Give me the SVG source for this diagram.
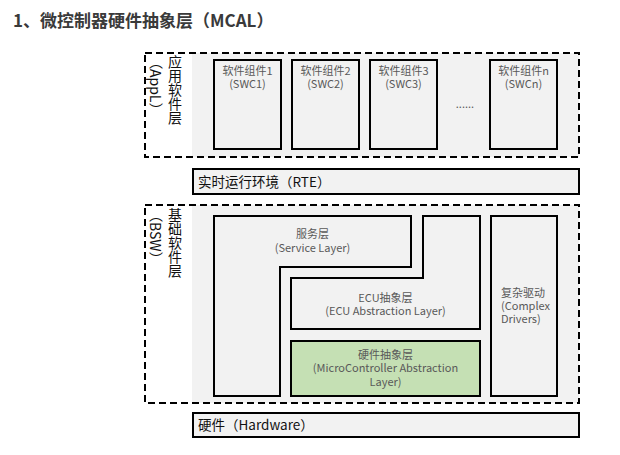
<svg xmlns="http://www.w3.org/2000/svg" width="620" height="455" viewBox="0 0 620 455">
<style>
text{font-family:"Noto Sans CJK SC","Noto Sans",sans-serif}
.title{font-size:17px;font-weight:bold;fill:#3a3a3a}
.bg{fill:#f2f2f2;stroke:none}
.dash{fill:none;stroke:#000;stroke-width:2;stroke-dasharray:7,4}
.box{fill:#f2f2f2;stroke:#000;stroke-width:2}
.green{fill:#c5e0b4;stroke:#000;stroke-width:2}
.sm{font-size:11px;fill:#595959;text-anchor:middle}
.smL{font-size:11px;fill:#595959}
.bar{font-size:13.5px;fill:#111}
.vt{font-size:14px;fill:#111;writing-mode:vertical-rl}
</style>
<rect width="620" height="455" fill="#fff"/>
<text class="title" x="13" y="27">1、微控制器硬件抽象层（MCAL）</text>

<g id="appl">
<rect class="bg" x="192" y="53" width="387" height="104"/>
<rect class="dash" x="145" y="53" width="434" height="104"/>
<text class="vt" x="175" y="55">应用软件层</text>
<text class="vt" x="156" y="55">（AppL）</text>
</g>
<g id="swc1">
<rect class="box" x="214" y="60" width="67" height="89"/>
<text class="sm" x="247.5" y="75">软件组件1</text>
<text class="sm" x="247.5" y="88">(SWC1)</text>
</g>
<g id="swc2">
<rect class="box" x="292" y="60" width="67" height="89"/>
<text class="sm" x="325.5" y="75">软件组件2</text>
<text class="sm" x="325.5" y="88">(SWC2)</text>
</g>
<g id="swc3">
<rect class="box" x="370" y="60" width="67" height="89"/>
<text class="sm" x="403.5" y="75">软件组件3</text>
<text class="sm" x="403.5" y="88">(SWC3)</text>
</g>
<g id="dots">
<text class="sm" x="465" y="108">......</text>
</g>
<g id="swcn">
<rect class="box" x="490" y="60" width="67" height="89"/>
<text class="sm" x="523.5" y="75">软件组件n</text>
<text class="sm" x="523.5" y="88">(SWCn)</text>
</g>

<g id="rte">
<rect class="box" x="193" y="169" width="386" height="25"/>
<text class="bar" x="198" y="186.5">实时运行环境（RTE）</text>
</g>

<g id="bsw">
<rect class="bg" x="192" y="205" width="387" height="198"/>
<rect class="dash" x="145" y="205" width="434" height="198"/>
<text class="vt" x="175" y="208">基础软件层</text>
<text class="vt" x="156" y="208">（BSW）</text>
</g>
<g id="service">
<path class="box" d="M214,216 H411 V267 H280 V396 H214 Z"/>
<text class="sm" x="312.5" y="238">服务层</text>
<text class="sm" x="312.5" y="252">(Service Layer)</text>
</g>
<g id="ecu">
<path class="box" d="M291,278 H423 V216 H480 V329 H291 Z"/>
<text class="sm" x="385.5" y="302">ECU抽象层</text>
<text class="sm" x="385.5" y="315">(ECU Abstraction Layer)</text>
</g>
<g id="complex">
<rect class="box" x="491" y="216" width="66" height="180"/>
<text class="smL" x="501" y="297">复杂驱动</text>
<text class="smL" x="501" y="310">(Complex</text>
<text class="smL" x="501" y="323">Drivers)</text>
</g>
<g id="mcal">
<rect class="green" x="291" y="341" width="189" height="55"/>
<text class="sm" x="385.5" y="359">硬件抽象层</text>
<text class="sm" x="385.5" y="372">(MicroController Abstraction</text>
<text class="sm" x="385.5" y="386">Layer)</text>
</g>

<g id="hardware">
<rect class="box" x="193" y="413" width="386" height="24"/>
<text class="bar" x="198" y="430">硬件（Hardware）</text>
</g>
<g id="connectors"/>
</svg>
